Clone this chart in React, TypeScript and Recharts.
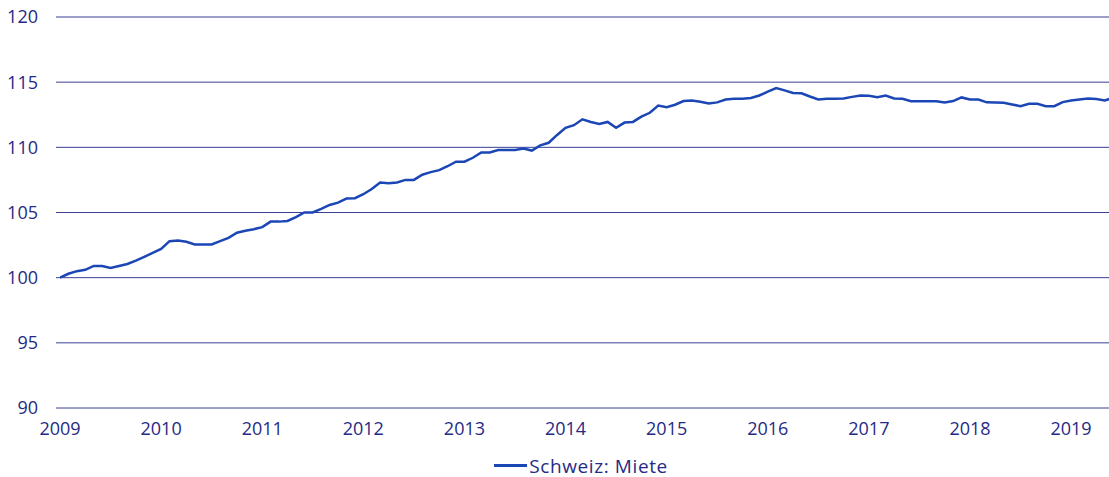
import { CartesianGrid, Legend, Line, LineChart, XAxis, YAxis } from "recharts";

// Monthly rent index, Switzerland (Jan 2009 = 100), Jan 2009 .. Jun 2019.
const START_YEAR = 2009;

const MIETE: number[] = [
  // 2009
  100.0, 100.3, 100.5, 100.6, 100.9, 100.9, 100.75, 100.9, 101.05, 101.3, 101.6, 101.9,
  // 2010
  102.2, 102.8, 102.85, 102.75, 102.55, 102.55, 102.55, 102.8, 103.05, 103.45, 103.6, 103.72,
  // 2011
  103.88, 104.3, 104.3, 104.35, 104.65, 105.0, 105.0, 105.27, 105.58, 105.76, 106.07, 106.1,
  // 2012
  106.4, 106.8, 107.3, 107.25, 107.3, 107.5, 107.5, 107.9, 108.1, 108.25, 108.55, 108.9,
  // 2013
  108.9, 109.2, 109.6, 109.6, 109.8, 109.8, 109.8, 109.9, 109.75, 110.15, 110.35, 110.95,
  // 2014
  111.5, 111.7, 112.15, 111.95, 111.8, 111.95, 111.5, 111.9, 111.95, 112.35, 112.65, 113.2,
  // 2015
  113.08, 113.27, 113.55, 113.6, 113.5, 113.37, 113.45, 113.67, 113.72, 113.72, 113.78, 113.98,
  // 2016
  114.27, 114.55, 114.37, 114.17, 114.15, 113.9, 113.67, 113.72, 113.72, 113.75, 113.87, 113.98,
  // 2017
  113.95, 113.85, 113.98, 113.75, 113.72, 113.54, 113.54, 113.54, 113.54, 113.45, 113.55, 113.83,
  // 2018
  113.67, 113.67, 113.45, 113.44, 113.42, 113.29, 113.16, 113.34, 113.34, 113.16, 113.16, 113.47,
  // 2019
  113.6, 113.67, 113.75, 113.7, 113.6, 113.8,
];

const Y_TICKS = [90, 95, 100, 105, 110, 115, 120];
const X_TICKS = [0, 12, 24, 36, 48, 60, 72, 84, 96, 108, 120];
const SERIES_NAME = "Schweiz: Miete";

const data = MIETE.map((value, month) => ({ month, value }));

const NAVY = "#262a84";
const GRID = "#3a3f95";
const LINE = "#1b46b6";
const FONT = "'Open Sans', 'Noto Sans', sans-serif";

function LegendContent() {
  return (
    <div
      style={{
        boxSizing: "border-box",
        height: 39,
        paddingTop: 16,
        paddingLeft: 53,
        display: "flex",
        alignItems: "center",
        justifyContent: "center",
        fontFamily: FONT,
        fontSize: 19,
        letterSpacing: 0.6,
        color: NAVY,
      }}
    >
      <span
        style={{
          display: "inline-block",
          width: 33,
          height: 2.5,
          background: LINE,
          marginRight: 2,
        }}
      />
      <span>{SERIES_NAME}</span>
    </div>
  );
}

export default function App() {
  return (
    <div style={{ position: "absolute", left: 0, top: 0, width: 1109, height: 477 }}>
      <LineChart
        width={1109}
        height={477}
        data={data}
        margin={{ top: 17, right: 0, bottom: 0, left: 0 }}
      >
        <CartesianGrid horizontal vertical={false} stroke={GRID} strokeWidth={1} />
        <XAxis
          dataKey="month"
          type="number"
          domain={[0, 124.5]}
          allowDataOverflow
          ticks={X_TICKS}
          tickFormatter={(v: number) => String(START_YEAR + v / 12)}
          padding={{ left: 4, right: 0 }}
          axisLine={false}
          tickLine={false}
          tickSize={0}
          tickMargin={14}
          height={30}
          interval={0}
          tick={{ fill: NAVY, fontSize: 18, fontFamily: FONT }}
        />
        <YAxis
          type="number"
          domain={[90, 120]}
          ticks={Y_TICKS}
          width={56}
          axisLine={false}
          tickLine={false}
          tickSize={0}
          tickMargin={18}
          interval={0}
          tick={{ fill: NAVY, fontSize: 18, fontFamily: FONT }}
        />
        <Legend verticalAlign="bottom" height={39} content={() => <LegendContent />} />
        <Line
          type="linear"
          dataKey="value"
          name={SERIES_NAME}
          stroke={LINE}
          strokeWidth={2.5}
          dot={false}
          activeDot={false}
          isAnimationActive={false}
        />
      </LineChart>
    </div>
  );
}
